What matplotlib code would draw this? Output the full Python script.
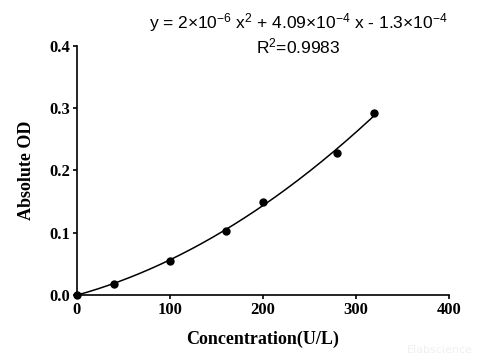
import numpy as np
import matplotlib
matplotlib.use("Agg")
import matplotlib.pyplot as plt

plt.rcParams["mathtext.fontset"] = "custom"
plt.rcParams["mathtext.rm"] = "Liberation Sans"
plt.rcParams["mathtext.it"] = "Liberation Sans"
plt.rcParams["mathtext.default"] = "regular"

# standard curve points
concentration = [0, 40, 100, 160, 200, 280, 320]
absolute_od = [0.0, 0.018, 0.055, 0.103, 0.150, 0.228, 0.292]

x_ticks = [0, 100, 200, 300, 400]
y_ticks = [0.0, 0.1, 0.2, 0.3, 0.4]

fig = plt.figure(figsize=(4.8, 3.6), dpi=100)
ax = fig.add_axes([0.160, 0.181, 0.775, 0.691])

# quadratic fit through the points
coef = np.polyfit(concentration, absolute_od, 2)
xs = np.linspace(min(concentration), max(concentration), 200)
ax.plot(xs, np.polyval(coef, xs), color="black", lw=1.1)
ax.plot(concentration, absolute_od, "o", color="black", ms=5, clip_on=False, zorder=3)

ax.set_xlim(0, 400)
ax.set_ylim(0, 0.4)
ax.set_xticks(x_ticks)
ax.set_yticks(y_ticks)
ax.set_xticklabels([str(t) for t in x_ticks])
ax.set_yticklabels([f"{t:.1f}" for t in y_ticks])
for s in ["top", "right"]:
    ax.spines[s].set_visible(False)
for s in ["left", "bottom"]:
    ax.spines[s].set_linewidth(1.2)
ax.tick_params(direction="out", length=3, width=1.2, pad=2)
for lab in ax.get_xticklabels() + ax.get_yticklabels():
    lab.set_fontfamily("Liberation Serif")
    lab.set_fontweight("bold")
    lab.set_fontsize(12)

ax.set_xlabel("Concentration(U/L)", fontfamily="Liberation Serif", fontweight="bold",
              fontsize=13, labelpad=9)
ax.set_ylabel("Absolute OD", fontfamily="Liberation Serif", fontweight="bold",
              fontsize=13, labelpad=10)

fig.text(0.622, 0.937, r"y = 2×10$^{-6}$ x$^2$ + 4.09×10$^{-4}$ x - 1.3×10$^{-4}$",
         ha="center", va="center", fontfamily="Liberation Sans", fontsize=12.5)
fig.text(0.622, 0.872, r"R$^2$=0.9983", ha="center", va="center",
         fontfamily="Liberation Sans", fontsize=12.5)
fig.text(0.985, 0.015, "Elabscience", ha="right", va="bottom", color="#f0f0f0", fontsize=8)

fig.savefig("out.png", dpi=100)
